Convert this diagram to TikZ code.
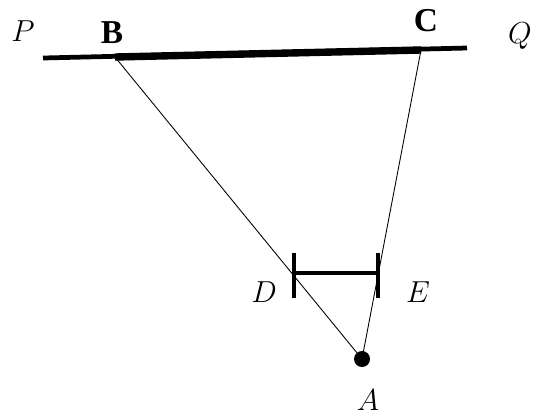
\documentclass[tikz,border=0pt]{standalone}
\usepackage{tikz}
\usetikzlibrary{calc}
\usepackage{fontspec}
\setmainfont{Liberation Serif}

\begin{document}
\begin{tikzpicture}[x=0.02cm, y=-0.02cm,
		lbl/.style = {font=\fontsize{18}{20}\selectfont, inner sep=0pt},
		bl/.style = {font=\fontsize{19}{21}\selectfont\bfseries, inner sep=0pt},
		road/.style = {line width=2.7pt},
		bank/.style = {line width=4.2pt},
		sight/.style = {line width=0.5pt},
		rod/.style = {line width=2.5pt}
		]
		\useasboundingbox (0,0) rectangle (537,414);
		
		%Points
		\coordinate	(p)	at	(43, 58);
		\coordinate	(q)	at	(467, 48);
		\coordinate	(b)	at	(115, 57);
		\coordinate	(c)	at	(421, 50);
		\coordinate	(a)	at	(362, 359);
		\coordinate	(d)	at	(294, 273);
		\coordinate	(e)	at	(378, 273);
		
		%Labels
		\node[lbl]	(pl)	at	(23, 31)	{$P$};
		\node[lbl]	(ql)	at	(520, 36)	{$Q$};
		\node[bl]	(bl)	at	(112, 33)	{B};
		\node[bl]	(cl)	at	(426, 21)	{C};
		\node[lbl]	(dl)	at	(264, 292)	{$D$};
		\node[lbl]	(el)	at	(418, 292)	{$E$};
		\node[lbl]	(al)	at	(368, 400)	{$A$};
		
		%Lines
		\draw[road]	(p)	--	(q);
		\draw[bank]	(b)	--	(c);
		\draw[sight]	(b)	--	(a);
		\draw[sight]	(c)	--	(a);
		\draw[rod]	(d)	--	(e);
		\draw[rod]	($(d)+(0,-20)$)	--	($(d)+(0,25)$);
		\draw[rod]	($(e)+(0,-20)$)	--	($(e)+(0,25)$);
		\fill	(a)	circle	(8);
	\end{tikzpicture}
\end{document}
